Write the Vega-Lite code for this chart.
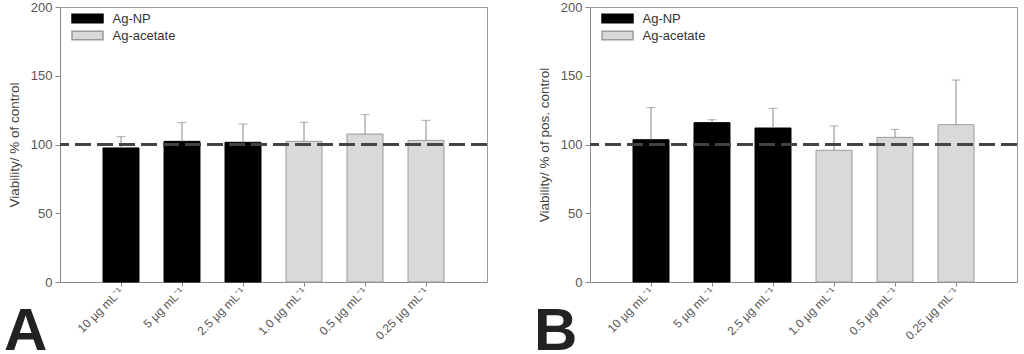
{
  "$schema": "https://vega.github.io/schema/vega-lite/v6.json",
  "padding": {"left": 3, "top": 0, "right": 0, "bottom": 0},
  "spacing": 44,
  "config": {
    "font": "Liberation Sans",
    "view": {"stroke": "#9a9a9a", "strokeWidth": 1},
    "axis": {"domainColor": "#8a8a8a", "tickColor": "#8a8a8a", "labelColor": "#555555", "titleColor": "#444444", "titleFontWeight": "normal", "grid": false},
    "title": {"fontSize": 60, "fontWeight": "bold", "color": "#222222", "orient": "bottom", "anchor": "start", "frame": "group"}
  },
  "data": {"values": [
    {"panel": "A", "conc": "10 µg mL⁻¹", "group": "Ag-NP", "mean": 97.5, "upper": 105.7},
    {"panel": "A", "conc": "5 µg mL⁻¹", "group": "Ag-NP", "mean": 102.3, "upper": 115.9},
    {"panel": "A", "conc": "2.5 µg mL⁻¹", "group": "Ag-NP", "mean": 101.6, "upper": 114.9},
    {"panel": "A", "conc": "1.0 µg mL⁻¹", "group": "Ag-acetate", "mean": 102.3, "upper": 116.1},
    {"panel": "A", "conc": "0.5 µg mL⁻¹", "group": "Ag-acetate", "mean": 107.6, "upper": 121.7},
    {"panel": "A", "conc": "0.25 µg mL⁻¹", "group": "Ag-acetate", "mean": 103.0, "upper": 117.6},
    {"panel": "B", "conc": "10 µg mL⁻¹", "group": "Ag-NP", "mean": 103.5, "upper": 126.8},
    {"panel": "B", "conc": "5 µg mL⁻¹", "group": "Ag-NP", "mean": 115.9, "upper": 118.0},
    {"panel": "B", "conc": "2.5 µg mL⁻¹", "group": "Ag-NP", "mean": 112.0, "upper": 126.3},
    {"panel": "B", "conc": "1.0 µg mL⁻¹", "group": "Ag-acetate", "mean": 95.8, "upper": 113.5},
    {"panel": "B", "conc": "0.5 µg mL⁻¹", "group": "Ag-acetate", "mean": 105.2, "upper": 111.0},
    {"panel": "B", "conc": "0.25 µg mL⁻¹", "group": "Ag-acetate", "mean": 114.4, "upper": 146.9}
  ]},
  "hconcat": [
    {
      "title": {"text": "A", "dx": -56, "offset": -39},
      "width": 427, "height": 275,
      "transform": [{"filter": "datum.panel === 'A'"}],
      "layer": [
        {
          "mark": {"type": "bar", "strokeWidth": 1},
          "encoding": {
            "x": {"field": "conc", "type": "nominal", "sort": null,
              "scale": {"paddingInner": 0.41, "paddingOuter": 0.705},
              "axis": {"title": null, "labelAngle": -45, "labelAlign": "right", "labelBaseline": "middle", "labelFontSize": 12, "tickSize": 4, "labelPadding": 3}},
            "y": {"field": "mean", "type": "quantitative", "scale": {"domain": [0, 200]},
              "axis": {"values": [0, 50, 100, 150, 200], "title": "Viability/ % of control", "titleFontSize": 13.5, "labelFontSize": 13, "tickSize": 5, "labelPadding": 3, "titlePadding": 9}},
            "fill": {"field": "group", "type": "nominal", "scale": {"domain": ["Ag-NP", "Ag-acetate"], "range": ["#000000", "#d9d9d9"]},
              "legend": {"title": null, "orient": "none", "legendX": 19, "legendY": 3, "symbolType": "M-2,-0.55H2V0.55H-2Z", "symbolSize": 240, "labelFontSize": 13, "labelColor": "#333333", "labelOffset": 16.5, "rowPadding": 1}},
            "stroke": {"field": "group", "type": "nominal", "scale": {"domain": ["Ag-NP", "Ag-acetate"], "range": ["#000000", "#9a9a9a"]}}
          }
        },
        {
          "mark": {"type": "rule", "color": "#8a8a8a", "strokeWidth": 1},
          "encoding": {"x": {"field": "conc", "type": "nominal", "sort": null}, "y": {"field": "mean", "type": "quantitative"}, "y2": {"field": "upper"}}
        },
        {
          "mark": {"type": "tick", "color": "#8a8a8a", "thickness": 1, "size": 9},
          "encoding": {"x": {"field": "conc", "type": "nominal", "sort": null}, "y": {"field": "upper", "type": "quantitative"}}
        },
        {
          "mark": {"type": "rule", "color": "#444444", "strokeWidth": 2, "strokeDash": [16, 6]},
          "encoding": {"y": {"datum": 100}}
        }
      ]
    },
    {
      "title": {"text": "B", "dx": -56, "offset": -39},
      "width": 427, "height": 275,
      "transform": [{"filter": "datum.panel === 'B'"}],
      "layer": [
        {
          "mark": {"type": "bar", "strokeWidth": 1},
          "encoding": {
            "x": {"field": "conc", "type": "nominal", "sort": null,
              "scale": {"paddingInner": 0.41, "paddingOuter": 0.705},
              "axis": {"title": null, "labelAngle": -45, "labelAlign": "right", "labelBaseline": "middle", "labelFontSize": 12, "tickSize": 4, "labelPadding": 3}},
            "y": {"field": "mean", "type": "quantitative", "scale": {"domain": [0, 200]},
              "axis": {"values": [0, 50, 100, 150, 200], "title": "Viability/ % of pos. control", "titleFontSize": 13.5, "labelFontSize": 13, "tickSize": 5, "labelPadding": 3, "titlePadding": 9}},
            "fill": {"field": "group", "type": "nominal", "scale": {"domain": ["Ag-NP", "Ag-acetate"], "range": ["#000000", "#d9d9d9"]},
              "legend": {"title": null, "orient": "none", "legendX": 19, "legendY": 3, "symbolType": "M-2,-0.55H2V0.55H-2Z", "symbolSize": 240, "labelFontSize": 13, "labelColor": "#333333", "labelOffset": 16.5, "rowPadding": 1}},
            "stroke": {"field": "group", "type": "nominal", "scale": {"domain": ["Ag-NP", "Ag-acetate"], "range": ["#000000", "#9a9a9a"]}}
          }
        },
        {
          "mark": {"type": "rule", "color": "#8a8a8a", "strokeWidth": 1},
          "encoding": {"x": {"field": "conc", "type": "nominal", "sort": null}, "y": {"field": "mean", "type": "quantitative"}, "y2": {"field": "upper"}}
        },
        {
          "mark": {"type": "tick", "color": "#8a8a8a", "thickness": 1, "size": 9},
          "encoding": {"x": {"field": "conc", "type": "nominal", "sort": null}, "y": {"field": "upper", "type": "quantitative"}}
        },
        {
          "mark": {"type": "rule", "color": "#444444", "strokeWidth": 2, "strokeDash": [16, 6]},
          "encoding": {"y": {"datum": 100}}
        }
      ]
    }
  ],
  "resolve": {"legend": {"fill": "independent", "stroke": "independent"}}
}
